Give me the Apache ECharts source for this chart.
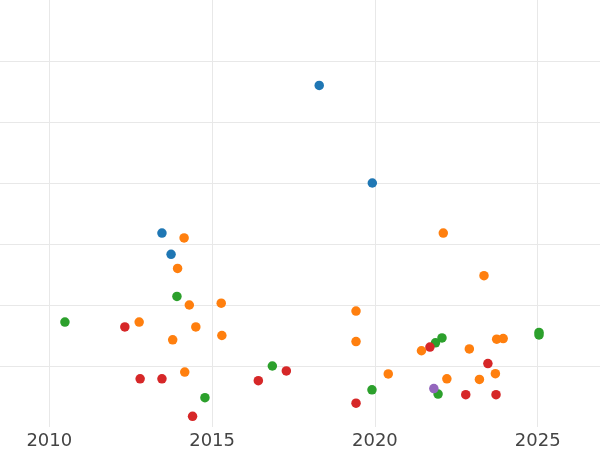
<!DOCTYPE html>
<html>
<head>
<meta charset="utf-8">
<script src="https://cdn.jsdelivr.net/npm/echarts@6/dist/echarts.min.js"></script>
<style>html,body{margin:0;padding:0;background:#fff}#c{width:600px;height:450px}</style>
</head>
<body>
<div id="c"></div>
<script>
// x = year, y = value
var blueX = [2018.29, 2019.92, 2013.46, 2013.74];
var blueY = [5.60, 4.00, 3.18, 2.83];

var orangeX = [2014.14, 2022.10, 2023.35, 2013.94, 2014.30, 2015.28, 2019.42, 2012.76, 2014.50, 2015.30, 2013.79, 2019.42, 2023.74, 2023.94, 2021.43, 2022.90, 2020.41, 2014.16, 2022.21, 2023.21, 2023.70];
var orangeY = [3.10, 3.18, 2.48, 2.60, 2.00, 2.03, 1.90, 1.72, 1.64, 1.50, 1.43, 1.40, 1.44, 1.45, 1.25, 1.28, 0.87, 0.90, 0.79, 0.78, 0.875];

var greenX = [2010.48, 2013.92, 2021.86, 2022.06, 2025.04, 2025.04, 2016.85, 2019.91, 2014.78, 2021.94];
var greenY = [1.72, 2.14, 1.38, 1.46, 1.55, 1.51, 1.00, 0.61, 0.48, 0.54];

var redX = [2012.32, 2012.79, 2013.46, 2014.40, 2016.42, 2017.28, 2019.42, 2021.69, 2022.79, 2023.72, 2023.47];
var redY = [1.64, 0.79, 0.79, 0.175, 0.76, 0.92, 0.39, 1.31, 0.53, 0.53, 1.04];

var purpleX = [2021.81];
var purpleY = [0.63];

var xTicks = [2010, 2015, 2020, 2025];
var xRange = [2008.486, 2026.913];

function pairs(xs, ys) { return xs.map(function (x, i) { return [x, ys[i]]; }); }

var groups = [
  { name: 'blue', color: '#1f77b4', x: blueX, y: blueY },
  { name: 'orange', color: '#ff7f0e', x: orangeX, y: orangeY },
  { name: 'green', color: '#2ca02c', x: greenX, y: greenY },
  { name: 'red', color: '#d62728', x: redX, y: redY },
  { name: 'purple', color: '#9467bd', x: purpleX, y: purpleY }
];

var chart = echarts.init(document.getElementById('c'), null, { renderer: 'canvas' });
chart.setOption({
  animation: false,
  backgroundColor: '#ffffff',
  grid: { left: 0, right: 0, top: 0, bottom: 22.6, containLabel: false },
  xAxis: {
    type: 'value',
    min: xRange[0],
    max: xRange[1],
    axisLine: { show: false },
    axisTick: { show: false, customValues: xTicks },
    axisLabel: {
      customValues: xTicks,
      color: '#444444', fontFamily: 'DejaVu Sans', fontSize: 18, margin: 5,
      formatter: function (v) { return String(Math.round(v)); }
    },
    splitLine: { show: true, showMinLine: true, showMaxLine: true, lineStyle: { color: '#e8e8e8', width: 1 } }
  },
  yAxis: {
    type: 'value',
    min: 0,
    max: 7,
    interval: 1,
    axisLine: { show: false },
    axisTick: { show: false },
    axisLabel: { show: false },
    splitLine: { show: true, showMinLine: false, showMaxLine: false, lineStyle: { color: '#e8e8e8', width: 1 } }
  },
  series: groups.map(function (g) {
    return {
      name: g.name,
      type: 'scatter',
      symbol: 'circle',
      symbolSize: 9.5,
      itemStyle: { color: g.color, opacity: 1 },
      data: pairs(g.x, g.y)
    };
  })
});
</script>
</body>
</html>
